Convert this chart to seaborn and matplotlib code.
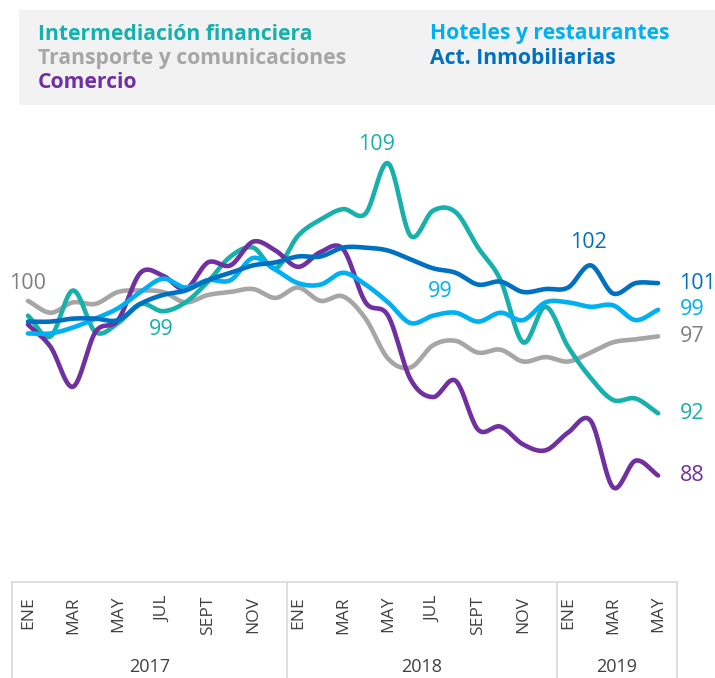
import numpy as np
import pandas as pd
import matplotlib
matplotlib.use("Agg")
import matplotlib.pyplot as plt
import seaborn as sns

# ---------------- data ----------------
months = ["ENE", "FEB", "MAR", "ABR", "MAY", "JUN", "JUL", "AGO", "SEPT", "OCT", "NOV", "DIC"] * 2 + \
         ["ENE", "FEB", "MAR", "ABR", "MAY"]
years = ["2017"] * 12 + ["2018"] * 12 + ["2019"] * 5
tick_labels = ["ENE", "MAR", "MAY", "JUL", "SEPT", "NOV",
               "ENE", "MAR", "MAY", "JUL", "SEPT", "NOV",
               "ENE", "MAR", "MAY"]

financiera = [98.8, 97.4, 100.5, 97.7, 98.3, 99.6, 99.1, 99.7, 101.1, 102.8,
              103.4, 102.0, 104.2, 105.3, 106.0, 105.7, 109.1, 104.2, 105.9, 105.8,
              103.4, 101.2, 97.0, 99.4, 96.7, 94.6, 93.1, 93.2, 92.2]
transporte = [99.8, 99.0, 99.7, 99.6, 100.4, 100.5, 100.4, 99.7, 100.2, 100.4,
              100.6, 100.0, 100.7, 99.8, 100.1, 98.6, 95.9, 95.3, 96.8, 97.1,
              96.3, 96.5, 95.7, 96.0, 95.7, 96.3, 97.0, 97.2, 97.4]
comercio = [98.2, 96.7, 94.0, 97.7, 98.5, 101.7, 101.5, 100.6, 102.4, 102.2,
            103.8, 103.2, 102.1, 103.1, 103.3, 99.7, 98.8, 94.5, 93.3, 94.4,
            91.1, 91.3, 90.1, 89.7, 90.9, 91.7, 87.2, 89.0, 88.0]
hoteles = [97.6, 97.6, 98.0, 98.6, 99.3, 100.4, 101.3, 100.7, 101.2, 101.2,
           102.7, 101.9, 101.0, 100.9, 101.7, 100.9, 99.7, 98.3, 98.8, 99.0,
           98.4, 99.0, 98.5, 99.7, 99.7, 99.4, 99.5, 98.5, 99.2]
inmobiliarias = [98.4, 98.4, 98.6, 98.6, 98.5, 99.6, 100.2, 100.5, 101.2, 101.7,
                 102.2, 102.4, 102.8, 102.8, 103.4, 103.4, 103.2, 102.6, 102.0, 101.7,
                 100.9, 101.1, 100.4, 100.6, 100.7, 102.2, 100.3, 101.0, 101.0]

series_names = ["Transporte y comunicaciones", "Intermediación financiera", "Comercio",
                "Hoteles y restaurantes", "Act. Inmobiliarias"]
series_values = [transporte, financiera, comercio, hoteles, inmobiliarias]
colors = {"Intermediación financiera": "#17b0aa",
          "Transporte y comunicaciones": "#a6a6a6",
          "Comercio": "#7030a0",
          "Hoteles y restaurantes": "#00b0f0",
          "Act. Inmobiliarias": "#0070c0"}


def smooth(x, y, n=24):
    """Catmull-Rom rendering of a line (like a spreadsheet 'smoothed line')."""
    x = np.asarray(x, float)
    y = np.asarray(y, float)
    px = np.concatenate([[2 * x[0] - x[1]], x, [2 * x[-1] - x[-2]]])
    py = np.concatenate([[2 * y[0] - y[1]], y, [2 * y[-1] - y[-2]]])
    xs, ys = [], []
    t = np.linspace(0, 1, n, endpoint=False)
    for i in range(1, len(px) - 2):
        for arr, out in ((px, xs), (py, ys)):
            p0, p1, p2, p3 = arr[i - 1], arr[i], arr[i + 1], arr[i + 2]
            out.extend(0.5 * ((2 * p1) + (-p0 + p2) * t +
                              (2 * p0 - 5 * p1 + 4 * p2 - p3) * t ** 2 +
                              (-p0 + 3 * p1 - 3 * p2 + p3) * t ** 3))
    xs.append(x[-1])
    ys.append(y[-1])
    return np.array(xs), np.array(ys)


idx = np.arange(len(months))
frames = []
for name, vals in zip(series_names, series_values):
    sx, sy = smooth(idx, vals)
    frames.append(pd.DataFrame({"x": sx, "v": sy, "serie": name, "order": np.arange(len(sx))}))
df = pd.concat(frames, ignore_index=True)

# ---------------- figure ----------------
sns.set_theme(style="white")
plt.rcParams["font.family"] = ["Open Sans", "DejaVu Sans"]

W, H = 715, 678
fig = plt.figure(figsize=(W / 100, H / 100), dpi=100)

x0, x1 = 12, 677
xmin, xmax = -0.71, 28.84
ax = fig.add_axes([x0 / W, (H - 582) / H, (x1 - x0) / W, (582 - 110) / H])
sns.lineplot(data=df, x="x", y="v", hue="serie", hue_order=series_names,
             palette=colors, units="serie", estimator=None, sort=False,
             linewidth=3.3, legend=False, ax=ax)
for ln in ax.get_lines():
    ln.set_solid_capstyle("round")
    ln.set_solid_joinstyle("round")
ax.set_xlim(xmin, xmax)
ax.set_ylim(80.8, 112.7)
ax.axis("off")

# data labels
lab_fs = 15.5
ax.text(0, transporte[0] + 1.15, "100", color="#7f7f7f", fontsize=lab_fs, ha="center", va="center")
ax.text(5.9, financiera[6] - 1.25, "99", color=colors["Intermediación financiera"],
        fontsize=lab_fs, ha="center", va="center")
ax.text(15.5, financiera[16] + 1.3, "109", color=colors["Intermediación financiera"],
        fontsize=lab_fs, ha="center", va="center")
ax.text(18.3, hoteles[18] + 1.6, "99", color=colors["Hoteles y restaurantes"],
        fontsize=lab_fs, ha="center", va="center")
ax.text(24.9, inmobiliarias[25] + 1.55, "102", color=colors["Act. Inmobiliarias"],
        fontsize=lab_fs, ha="center", va="center")
end_labels = [("101", inmobiliarias, "Act. Inmobiliarias"),
              ("99", hoteles, "Hoteles y restaurantes"),
              ("97", transporte, "#7f7f7f"),
              ("92", financiera, "Intermediación financiera"),
              ("88", comercio, "Comercio")]
for txt, vals, c in end_labels:
    col = colors.get(c, c)
    ax.text(28.95, vals[-1], txt, color=col, fontsize=lab_fs, ha="left", va="center")

# ---------------- category axis ----------------
cax = fig.add_axes([x0 / W, 0, (x1 - x0) / W, 96 / H])
cax.set_xlim(xmin, xmax)
cax.set_ylim(0, 96)
cax.set_xticks([])
cax.set_yticks([])
for s in ["top", "left", "right"]:
    cax.spines[s].set_color("#d9d9d9")
    cax.spines[s].set_linewidth(1.2)
cax.spines["bottom"].set_visible(False)
for b in [11.5, 23.5]:
    cax.axvline(b, color="#d9d9d9", lw=1.2)
for i, lab in enumerate(tick_labels):
    cax.text(2 * i, 82, lab, rotation=90, ha="center", va="top",
             fontsize=12.5, color="#404040")
yr_names = ["2017", "2018", "2019"]
yr_pos = [(xmin + 11.5) / 2, 17.5, (23.5 + xmax) / 2]
for yn, xp in zip(yr_names, yr_pos):
    cax.text(xp, 11, yn, ha="center", va="center", fontsize=13, color="#404040")

# ---------------- legend box ----------------
lax = fig.add_axes([19 / W, (H - 105) / H, (W - 19) / W, 95 / H])
lax.set_xlim(0, W - 19)
lax.set_ylim(95, 0)
lax.axis("off")
lax.add_patch(plt.Rectangle((0, 0), W - 19, 95, color="#f2f2f2", zorder=0))
leg_items = [("Intermediación financiera", 19, 24), ("Transporte y comunicaciones", 19, 48.5),
             ("Comercio", 19, 73), ("Hoteles y restaurantes", 411, 24), ("Act. Inmobiliarias", 411, 48.5)]
for name, lx, ly in leg_items:
    lax.text(lx, ly, name, color=colors[name], fontsize=15.2, fontweight="bold",
             ha="left", va="center")

fig.savefig("out.png", dpi=100)
